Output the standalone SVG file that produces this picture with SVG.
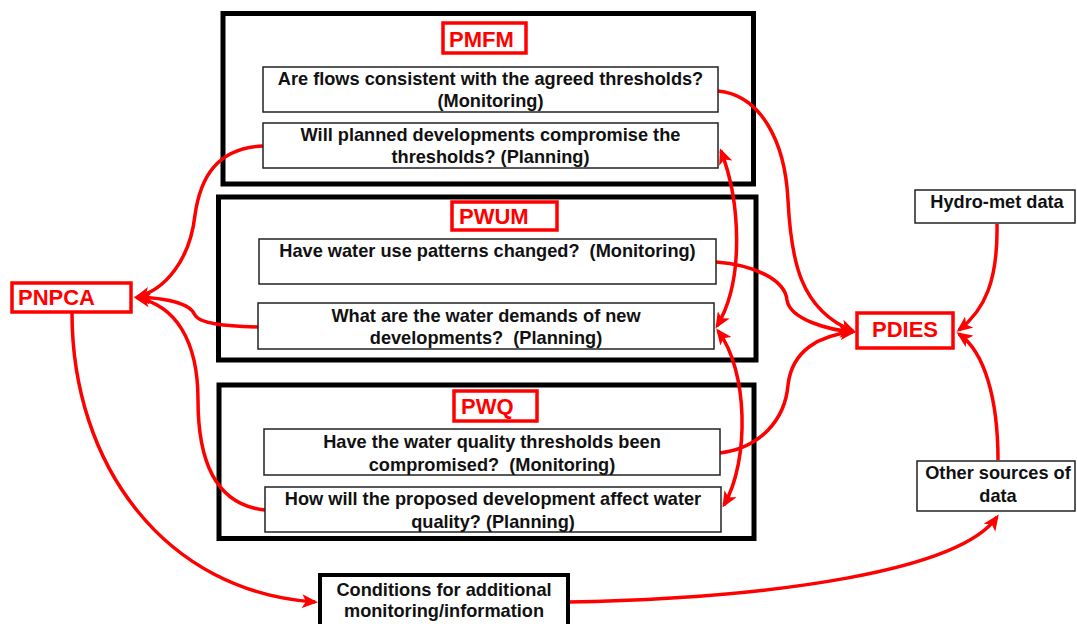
<svg xmlns="http://www.w3.org/2000/svg" width="1077" height="624" viewBox="0 0 1077 624">
<defs>
<style>
text{font-family:"Liberation Sans",Arial,sans-serif;font-weight:bold;white-space:pre}
.q{font-size:18.2px;fill:#111;text-anchor:middle}
.lbl{font-size:22px;fill:#ff0000}
.outer{fill:none;stroke:#000;stroke-width:5}
.qbox{fill:#fff;stroke:#222;stroke-width:1.5}
.rbox{fill:#fff;stroke:#ff0000;stroke-width:3.5}
.cbox{fill:#fff;stroke:#000;stroke-width:4}
.con{fill:none;stroke:#ff0000;stroke-width:3.5}
</style>
<marker id="ah" viewBox="0 0 16 14" refX="13" refY="7" markerWidth="16" markerHeight="14" markerUnits="userSpaceOnUse" orient="auto-start-reverse">
<path d="M0,0 L16,7 L0,14 L4,7 z" fill="#ff0000"/>
</marker>
</defs>
<rect width="1077" height="624" fill="#fff"/>

<g id="pmfm-group">
<rect class="outer" x="223" y="13.5" width="530.5" height="170.5"/>
</g>
<g id="pwum-group">
<rect class="outer" x="218.5" y="197" width="537.5" height="163"/>
</g>
<g id="pwq-group">
<rect class="outer" x="219" y="385" width="535" height="153.5"/>
</g>

<g id="connectors">
<path class="con" d="M263,146 C215,148 200,180 195,215 C190,260 165,290 137,297" marker-end="url(#ah)"/>
<path class="con" d="M258,327 C225,326 200,324 195,315 C190,303 165,298 137,297" marker-end="url(#ah)"/>
<path class="con" d="M265,510 C215,505 198,460 198,400 C198,340 175,305 137,298" marker-end="url(#ah)"/>
<path class="con" d="M72,313 C72,465 165,592 315,602" marker-end="url(#ah)"/>
<path class="con" d="M568,602 C780,598 960,570 997,517" marker-end="url(#ah)"/>
<path class="con" d="M718,91 C760,95 785,140 788,200 C791,260 800,310 853,331" marker-end="url(#ah)"/>
<path class="con" d="M716,262 C755,265 785,280 787,300 C790,320 830,330 853,332" marker-end="url(#ah)"/>
<path class="con" d="M720,453 C760,448 785,420 788,385 C792,350 820,335 853,332" marker-end="url(#ah)"/>
<path class="con" d="M997,224 C998,280 985,310 959,330" marker-end="url(#ah)"/>
<path class="con" d="M998,460 C998,400 985,352 959,334" marker-end="url(#ah)"/>
<path class="con" d="M721,151 C740,200 745,280 717,326" marker-start="url(#ah)" marker-end="url(#ah)"/>
<path class="con" d="M718,331 C748,370 750,460 724,505" marker-start="url(#ah)" marker-end="url(#ah)"/>
</g>

<g id="pmfm">
<rect class="rbox" x="443" y="23" width="83" height="30"/>
<text class="lbl" x="449" y="47">PMFM</text>
</g>
<g id="q-flows">
<rect class="qbox" x="263" y="67" width="455" height="45"/>
<text class="q" x="490.5" y="85">Are flows consistent with the agreed thresholds?</text>
<text class="q" x="490.5" y="107">(Monitoring)</text>
</g>
<g id="q-planned">
<rect class="qbox" x="263" y="123" width="455" height="45"/>
<text class="q" x="490.5" y="141">Will planned developments compromise the</text>
<text class="q" x="490.5" y="163">thresholds? (Planning)</text>
</g>

<g id="pwum">
<rect class="rbox" x="452" y="202" width="105" height="28"/>
<text class="lbl" x="459" y="224">PWUM</text>
</g>
<g id="q-wateruse">
<rect class="qbox" x="259" y="239" width="457" height="45"/>
<text class="q" x="487.5" y="257">Have water use patterns changed?  (Monitoring)</text>
</g>
<g id="q-demands">
<rect class="qbox" x="258" y="303" width="456" height="46"/>
<text class="q" x="486" y="322">What are the water demands of new</text>
<text class="q" x="486" y="344">developments?  (Planning)</text>
</g>

<g id="pwq">
<rect class="rbox" x="454" y="391" width="83" height="30"/>
<text class="lbl" x="461" y="414">PWQ</text>
</g>
<g id="q-quality">
<rect class="qbox" x="264" y="429" width="456" height="46"/>
<text class="q" x="492" y="448">Have the water quality thresholds been</text>
<text class="q" x="492" y="471">compromised?  (Monitoring)</text>
</g>
<g id="q-proposed">
<rect class="qbox" x="265" y="487" width="456" height="45"/>
<text class="q" x="493" y="505">How will the proposed development affect water</text>
<text class="q" x="493" y="528">quality? (Planning)</text>
</g>

<g id="pnpca">
<rect class="rbox" x="12" y="283" width="119" height="29"/>
<text class="lbl" x="18" y="305">PNPCA</text>
</g>
<g id="pdies">
<rect class="rbox" x="857" y="313" width="96" height="35"/>
<text class="lbl" x="905" y="337" text-anchor="middle">PDIES</text>
</g>
<g id="hydromet">
<rect class="qbox" x="915" y="190" width="160" height="33"/>
<text class="q" x="997" y="208">Hydro-met data</text>
</g>
<g id="other-sources">
<rect class="qbox" x="917" y="461" width="158" height="50"/>
<text class="q" x="998" y="479">Other sources of</text>
<text class="q" x="998" y="502">data</text>
</g>
<g id="conditions">
<rect class="cbox" x="320" y="575" width="248" height="62"/>
<text class="q" x="444" y="596">Conditions for additional</text>
<text class="q" x="444" y="617">monitoring/information</text>
</g>
</svg>
